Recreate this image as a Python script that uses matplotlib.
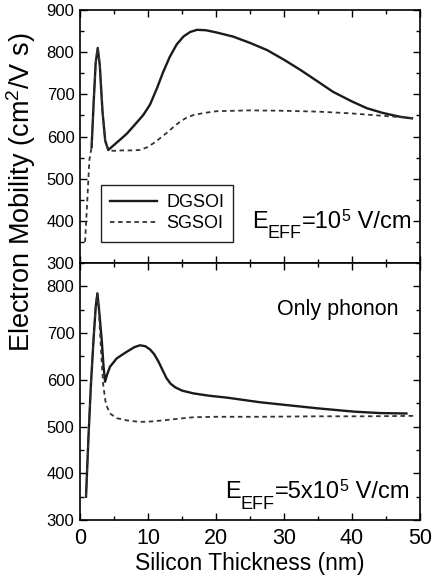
import numpy as np
import matplotlib
matplotlib.use("Agg")
from matplotlib import pyplot as plt
from matplotlib.ticker import MultipleLocator

plt.rcParams['font.family'] = ['Liberation Sans', 'DejaVu Sans']
plt.rcParams['mathtext.fontset'] = 'custom'
plt.rcParams['mathtext.rm'] = 'Liberation Sans'

# E_eff = 1e5 V/cm
dg_x_lo = [1.7, 2.0, 2.3, 2.6, 2.9, 3.3, 3.7, 4.15, 5.0, 6.0, 6.9, 8.0, 9.3, 10.3, 11.3, 12.2,
           13.2, 14.2, 15.2, 16.2, 17.2, 18.5, 20.0, 22.5, 25.0, 27.5, 30.0, 32.4, 35.0, 37.2,
           40.0, 42.2, 44.5, 47.0, 48.8]
dg_y_lo = [575, 680, 775, 810, 770, 660, 590, 568, 580, 594, 607, 627, 651, 676, 714, 752,
           789, 818, 837, 848, 853, 852, 847, 837, 822, 805, 782, 758, 730, 706,
           683, 667, 656, 647, 643]

sg_x_lo = [0.74, 1.07, 1.37, 1.7, 2.0, 2.3, 2.6, 2.9, 3.3, 3.7, 4.15, 4.9, 6.0, 7.5, 8.8, 9.8,
           10.8, 11.7, 12.7, 13.7, 14.7, 15.7, 16.7, 18.3, 20.1, 25.0, 30.0, 35.0, 39.7, 44.6, 49.5]
sg_y_lo = [350, 450, 544, 575, 680, 775, 810, 770, 660, 590, 568, 566, 567, 567, 568, 574,
           584, 595, 608, 622, 635, 645, 651, 656, 660, 662, 661, 659, 655, 649, 643]

# E_eff = 5e5 V/cm, phonon scattering only
dg_x_hi = [0.88, 1.22, 1.6, 2.0, 2.3, 2.55, 2.8, 3.19, 3.45, 3.68, 4.0, 4.4, 5.4, 6.86, 8.0, 8.8,
           9.6, 10.3, 10.9, 11.5, 12.1, 12.7, 13.3, 14.0, 15.0, 16.7, 19.0, 21.6, 26.5, 30.4, 35.0,
           40.3, 44.0, 48.0]
dg_y_hi = [350, 471, 590, 690, 755, 785, 750, 685, 630, 596, 612, 628, 646, 660, 670, 674,
           672, 665, 655, 640, 622, 604, 592, 584, 577, 571, 566, 562, 552, 546, 539,
           532, 529, 528]

sg_x_hi = [0.88, 1.22, 1.6, 2.0, 2.3, 2.55, 2.8, 3.1, 3.4, 3.8, 4.4, 5.4, 7.0, 8.8, 10.5,
           12.7, 14.5, 16.7, 20.0, 26.5, 35.0, 42.0, 49.5]
sg_y_hi = [350, 471, 590, 690, 755, 785, 740, 660, 590, 548, 528, 518, 513, 510, 511,
           514, 517, 520, 521, 521, 522, 522, 523]

fig = plt.figure(figsize=(4.35, 5.85), dpi=100)
ax1 = fig.add_axes([0.184, 0.5504, 0.7816, 0.4325])
ax2 = fig.add_axes([0.184, 0.111, 0.7816, 0.4394], sharex=ax1)

line_kw = dict(color='#1a1a1a', lw=1.7)
dash_kw = dict(color='#333333', lw=1.3, dashes=(2.5, 2.0))

ax1.plot(dg_x_lo, dg_y_lo, label='DGSOI', **line_kw)
ax1.plot(sg_x_lo, sg_y_lo, label='SGSOI', **dash_kw)
ax2.plot(dg_x_hi, dg_y_hi, **line_kw)
ax2.plot(sg_x_hi, sg_y_hi, **dash_kw)

ax1.set_ylim(300, 900)
ax2.set_ylim(300, 850)
ax1.set_xlim(0, 50)

for ax in (ax1, ax2):
    ax.xaxis.set_major_locator(MultipleLocator(10))
    ax.xaxis.set_minor_locator(MultipleLocator(5))
    ax.yaxis.set_major_locator(MultipleLocator(100))
    ax.yaxis.set_minor_locator(MultipleLocator(50))
    ax.tick_params(which='both', direction='in', top=True, right=True, width=1.0)
    ax.tick_params(which='major', length=5)
    ax.tick_params(which='minor', length=3)
    ax.tick_params(axis='y', labelsize=12, pad=4)
    ax.tick_params(axis='x', labelsize=15.5, pad=6)
    for s in ax.spines.values():
        s.set_linewidth(1.2)

ax1.tick_params(axis='x', labelbottom=False)
ax2.set_yticks([300, 400, 500, 600, 700, 800])

leg = ax1.legend(loc='lower left', bbox_to_anchor=(0.062, 0.085), fontsize=13,
                 frameon=True, fancybox=False, edgecolor='#222222', framealpha=1,
                 handlelength=2.6, borderpad=0.5, labelspacing=0.25, handletextpad=0.5,
                 borderaxespad=0)
leg.get_frame().set_linewidth(1.0)


def field_label(ax, x, y, parts):
    # lay out pieces left to right: (text, size, vertical offset in points)
    renderer = fig.canvas.get_renderer()
    dx = 0.0
    for s, size, dy in parts:
        t = ax.annotate(s, (x, y), xytext=(dx, dy), textcoords='offset points',
                        fontsize=size, ha='left', va='baseline')
        dx += t.get_window_extent(renderer).width * 72.0 / fig.dpi


field_label(ax1, 25.3, 383, [('E', 17, 0), ('EFF', 13, -7.5), ('=10', 17, 0),
                             ('5', 11.5, 5), (' V/cm', 17, 0)])
field_label(ax2, 21.3, 347, [('E', 17, 0), ('EFF', 13, -7.5), ('=5x10', 17, 0),
                             ('5', 11.5, 5), (' V/cm', 17, 0)])
ax2.text(46.8, 739, 'Only phonon', ha='right', va='baseline', fontsize=15.5)

ax2.set_xlabel('Silicon Thickness (nm)', fontsize=16.5, labelpad=2)
fig.text(0.048, 0.672, 'Electron Mobility (cm$^\\mathregular{2}$/V s)', rotation=90,
         ha='center', va='center', fontsize=19.5)

fig.savefig('out.png', dpi=100)
